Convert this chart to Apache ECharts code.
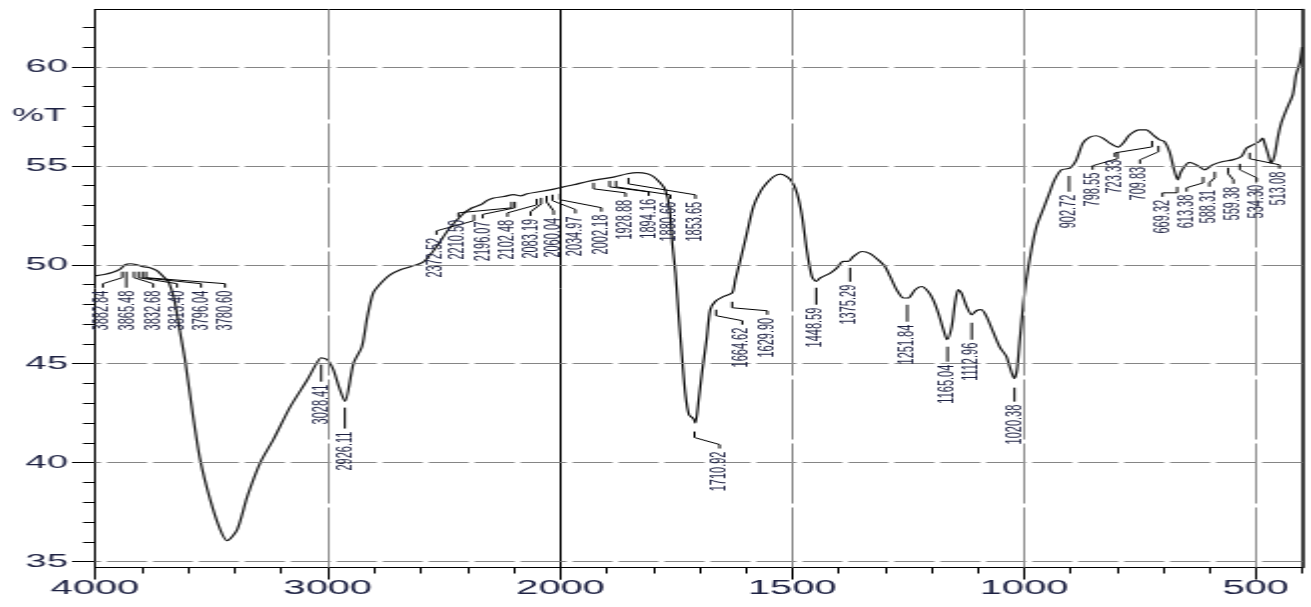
<!DOCTYPE html>
<html>
<head>
<meta charset="utf-8">
<title>IR spectrum</title>
<script src="https://cdn.jsdelivr.net/npm/echarts@6/dist/echarts.min.js"></script>
<style>
  html, body { margin: 0; padding: 0; background: #fff; overflow: hidden; }
  #wrap { width: 1311px; height: 607px; overflow: hidden; }
  /* the spectrum is drawn on a half-width canvas and widened 2x, like the instrument printout */
  #chart { width: 656px; height: 607px; transform: scaleX(1.998476); transform-origin: 0 0; }
</style>
</head>
<body>
<div id="wrap"><div id="chart"></div></div>
<script>
// ---- spectrum: wavenumber (cm-1) and transmittance (%T) ----
const wavenumbers = [
  4000, 3960, 3923, 3892, 3870, 3849, 3820, 3794, 3764, 3736, 3714, 3692, 3682, 3660,
  3634, 3613, 3578, 3548, 3505, 3462, 3432, 3389, 3346, 3290, 3234, 3161, 3088, 3049,
  3028, 3002, 2976, 2951, 2926, 2889, 2853, 2830, 2804, 2766, 2731, 2688, 2645, 2589,
  2540, 2480, 2423, 2380, 2344, 2315, 2287, 2244, 2201, 2172, 2143, 2086, 2029, 2000,
  1972, 1942, 1914, 1886, 1856, 1834, 1813, 1800, 1785, 1774, 1765, 1759, 1752, 1745,
  1738, 1731, 1723, 1713, 1709, 1702, 1695, 1685, 1677, 1666, 1648, 1630, 1623, 1612,
  1598, 1584, 1569, 1555, 1540, 1526, 1512, 1501, 1490, 1479, 1469, 1458, 1449, 1440,
  1418, 1404, 1390, 1379, 1368, 1350, 1332, 1311, 1300, 1289, 1275, 1260, 1250, 1235,
  1221, 1207, 1196, 1185, 1174, 1166, 1156, 1149, 1142, 1135, 1124, 1113, 1102, 1092,
  1081, 1067, 1052, 1038, 1031, 1021, 1015, 1009, 1002, 995, 984, 973, 962, 948,
  934, 919, 901, 887, 873, 858, 844, 830, 815, 797, 786, 772, 751, 736,
  722, 707, 697, 686, 676, 668, 661, 643, 628, 610, 593, 571, 550, 531,
  520, 506, 492, 485, 481, 474, 467, 460, 452, 445, 434, 420, 413, 405, 400
];
const transmittance = [
  49.44, 49.51, 49.62, 49.78, 50.00, 50.05, 50.00, 49.90, 49.85, 49.71, 49.49, 49.24, 49.10, 48.30,
  46.57, 45.20, 42.32, 40.15, 38.13, 36.62, 36.06, 36.62, 38.28, 40.00, 41.16, 42.83, 44.19, 45.00,
  45.30, 45.20, 44.70, 43.80, 43.10, 45.03, 45.87, 47.37, 48.59, 49.14, 49.50, 49.75, 49.90, 50.15,
  50.80, 51.80, 52.53, 52.88, 53.03, 53.25, 53.37, 53.45, 53.54, 53.48, 53.59, 53.70, 53.82, 53.90,
  54.04, 54.21, 54.33, 54.43, 54.60, 54.66, 54.60, 54.46, 54.14, 53.79, 52.88, 51.10, 49.58, 47.39,
  45.37, 43.52, 42.42, 42.21, 42.00, 43.18, 44.53, 46.21, 47.73, 48.15, 48.40, 48.57, 49.24, 50.25,
  51.60, 52.94, 53.70, 54.13, 54.46, 54.58, 54.46, 54.21, 53.62, 52.44, 50.76, 49.41, 49.16, 49.33,
  49.58, 49.83, 50.17, 50.17, 50.42, 50.67, 50.56, 50.17, 49.91, 49.41, 48.74, 48.32, 48.32, 48.74,
  48.90, 48.65, 48.23, 47.56, 46.72, 46.21, 46.88, 48.07, 48.74, 48.57, 47.89, 47.47, 47.69, 47.73,
  47.39, 46.63, 45.83, 45.37, 44.86, 44.25, 44.70, 46.21, 47.89, 49.24, 50.76, 51.93, 52.61, 53.45,
  54.29, 54.80, 54.88, 55.30, 56.15, 56.45, 56.52, 56.40, 56.15, 55.94, 56.15, 56.57, 56.82, 56.82,
  56.57, 56.31, 56.23, 55.72, 54.80, 54.29, 54.71, 55.17, 55.05, 54.80, 55.05, 55.22, 55.30, 55.47,
  55.89, 56.06, 56.23, 56.40, 56.15, 55.64, 55.14, 55.47, 56.48, 57.16, 57.83, 58.60, 59.60, 60.20, 61.00
];

// ---- peak picks printed on the spectrum ----
const peakWavenumbers = [
  3882.84, 3865.48, 3832.68, 3813.40, 3796.04, 3780.60, 3028.41, 2926.11,
  2372.52, 2210.50, 2196.07, 2102.48, 2083.19, 2060.04, 2034.97, 2002.18,
  1928.88, 1894.16, 1880.66, 1853.65, 1710.92, 1664.62, 1629.90, 1448.59,
  1375.29, 1251.84, 1165.04, 1112.96, 1020.38, 902.72, 798.55, 723.33,
  709.83, 669.32, 613.38, 588.31, 559.38, 534.30, 513.08
];
// leader layout for each pick: [wavenumber where the label sits, %T of leader start, %T of label top]
const peakLabelLayout = [
  [3966, 49.65, 48.69], [3858, 49.65, 48.69], [3750, 49.65, 48.69], [3647, 49.65, 48.69],
  [3544, 49.65, 48.69], [3441, 49.65, 48.69], [3028.41, 44.95, 43.94], [2926.11, 42.78, 41.57],
  [2533, 52.53, 51.36], [2439, 53.18, 52.27], [2335, 53.18, 52.19], [2228, 53.33, 52.27],
  [2129, 53.38, 52.32], [2030, 53.48, 52.37], [1968, 53.54, 52.44], [1912, 53.59, 52.53],
  [1860, 54.14, 53.28], [1810, 54.24, 53.33], [1763, 54.24, 53.18], [1709, 54.39, 53.18],
  [1657, 41.57, 40.56], [1608, 47.73, 46.82], [1554, 48.13, 47.32], [1448.59, 48.84, 47.83],
  [1375.29, 49.85, 48.99], [1251.84, 47.98, 46.97], [1165.04, 45.86, 44.95], [1112.96, 47.07, 46.06],
  [1020.38, 43.79, 42.93], [902.72, 54.49, 53.54], [852, 55.66, 54.65], [804, 56.26, 55.30],
  [750, 56.01, 54.95], [701, 53.94, 53.28], [649, 54.44, 53.54], [600, 54.70, 53.79],
  [548, 54.90, 53.94], [498, 55.10, 54.04], [449, 55.66, 54.70]
];

// ---- axis ticks ----
const xTicksLeft = [4000, 3000, 2000];
const xLabelsLeft = [4000, 3000];
const xMajorRight = [2000, 1500, 1000, 500];
const xMinorRight = [1900, 1800, 1700, 1600, 1400, 1300, 1200, 1100, 900, 800, 700, 600, 400];
const yMajor = [35, 40, 45, 50, 55, 60];
const yMinor = [35, 36, 37, 38, 39, 40, 41, 42, 43, 44, 45, 46, 47, 48, 49, 50,
                51, 52, 53, 54, 55, 56, 57, 58, 59, 60, 61, 62];
const verticalGridLeft = [3000];
const verticalGridRight = [1500, 1000, 500];
const Y_MIN = 34.7, Y_MAX = 62.9;

const FONT = '"Liberation Sans", Arial, sans-serif';
const INK = '#1d2142';
const BLACK = '#000';

// the scale changes at 2000 cm-1: one grid for 4000-2000, another for 2000-400
const leftData = [], rightData = [];
wavenumbers.forEach((w, i) => {
  if (w >= 2000) leftData.push([w, transmittance[i]]);
  if (w <= 2000) rightData.push([w, transmittance[i]]);
});

const hGridLine = yMajor.map(v => ({ yAxis: v }));
const dashStyle = { color: '#858585', width: 1, type: [20, 3] };
const vStyle = { color: '#8f8f8f', width: 1, type: [60, 4] };

function gridLineSeries(xi, yi, verticals) {
  return {
    type: 'line', xAxisIndex: xi, yAxisIndex: yi, data: [], silent: true, z: 1,
    markLine: {
      silent: true, symbol: 'none', animation: false,
      label: { show: false }, emphasis: { disabled: true },
      data: hGridLine.map(d => ({ ...d, lineStyle: dashStyle }))
        .concat(verticals.map(v => ({ xAxis: v, lineStyle: vStyle })))
    }
  };
}

const axisLine = { show: true, onZero: false, lineStyle: { color: BLACK, width: 1 } };
const tickLine = { color: BLACK, width: 1 };
const labelStyle = { fontFamily: FONT, color: INK };
const plainNumber = v => String(v);
// frame line along the top of each grid
const topFrame = gi => ({
  gridIndex: gi, type: 'value', position: 'top',
  min: gi === 0 ? 2000 : 400, max: gi === 0 ? 4000 : 2000, inverse: true,
  axisLine, axisTick: { show: false }, axisLabel: { show: false }, splitLine: { show: false }
});

const chart = echarts.init(document.getElementById('chart'));
chart.setOption({
  animation: false,
  title: {
    text: '%T', left: 6, top: 107, padding: 0,
    textStyle: { fontFamily: FONT, fontSize: 18, fontWeight: 'normal', color: INK }
  },
  grid: [
    { left: 47.5, top: 9.5, width: 233, bottom: 39.5, outerBoundsMode: 'none' },
    { left: 280.5, top: 9.5, right: 4.5, bottom: 39.5, outerBoundsMode: 'none' }
  ],
  xAxis: [
    {
      gridIndex: 0, type: 'value', position: 'bottom', min: 2000, max: 4000, interval: 1000, inverse: true,
      axisLine,
      axisTick: { show: true, length: 12, lineStyle: tickLine, customValues: xTicksLeft },
      minorTick: { show: true, splitNumber: 5, length: 6, lineStyle: tickLine },
      axisLabel: { ...labelStyle, fontSize: 20, margin: 11, customValues: xLabelsLeft, formatter: plainNumber },
      splitLine: { show: false }
    },
    {
      gridIndex: 1, type: 'value', position: 'bottom', min: 400, max: 2000, inverse: true,
      axisLine,
      axisTick: { show: true, length: 12, lineStyle: tickLine, customValues: xMajorRight },
      axisLabel: { ...labelStyle, fontSize: 20, margin: 11, customValues: xMajorRight, formatter: plainNumber },
      splitLine: { show: false }
    },
    {
      gridIndex: 1, type: 'value', position: 'bottom', min: 400, max: 2000, inverse: true,
      axisLine: { show: false },
      axisTick: { show: true, length: 6, lineStyle: tickLine, customValues: xMinorRight },
      axisLabel: { show: false },
      splitLine: { show: false }
    },
    topFrame(0),
    topFrame(1)
  ],
  yAxis: [
    {
      gridIndex: 0, type: 'value', position: 'left', min: Y_MIN, max: Y_MAX,
      axisLine,
      axisTick: { show: true, length: 6, lineStyle: tickLine, customValues: yMinor },
      axisLabel: { ...labelStyle, fontSize: 19, margin: 13.5, customValues: yMajor, formatter: plainNumber },
      splitLine: { show: false }
    },
    {
      gridIndex: 0, type: 'value', position: 'left', min: Y_MIN, max: Y_MAX,
      axisLine: { show: false },
      axisTick: { show: true, length: 11.5, lineStyle: tickLine, customValues: yMajor },
      axisLabel: { show: false },
      splitLine: { show: false }
    },
    {
      gridIndex: 1, type: 'value', position: 'left', min: Y_MIN, max: Y_MAX,
      axisLine,
      axisTick: { show: false }, axisLabel: { show: false }, splitLine: { show: false }
    },
    {
      gridIndex: 1, type: 'value', position: 'right', min: Y_MIN, max: Y_MAX,
      axisLine: { show: true, onZero: false, lineStyle: { color: BLACK, width: 1.5 } },
      axisTick: { show: false }, axisLabel: { show: false }, splitLine: { show: false }
    }
  ],
  series: [
    {
      name: 'spectrum 4000-2000', type: 'line', xAxisIndex: 0, yAxisIndex: 0, data: leftData,
      showSymbol: false, smooth: 0.25, silent: true, z: 3,
      lineStyle: { color: '#151515', width: 1.2 }
    },
    {
      name: 'spectrum 2000-400', type: 'line', xAxisIndex: 1, yAxisIndex: 2, data: rightData,
      showSymbol: false, smooth: 0.25, silent: true, z: 3,
      lineStyle: { color: '#151515', width: 1.2 }
    },
    gridLineSeries(0, 0, verticalGridLeft),
    gridLineSeries(1, 2, verticalGridRight)
  ]
});

// peak labels with their leader lines, placed through the axes of the grid each point falls in
function toPixel(w, t) {
  return chart.convertToPixel({ seriesIndex: w >= 2000 ? 0 : 1 }, [w, t]);
}
const elements = [];
peakWavenumbers.forEach((w, i) => {
  const [labelW, startT, labelT] = peakLabelLayout[i];
  const p = toPixel(w, startT);
  const q = toPixel(labelW, labelT);
  const pts = Math.abs(p[0] - q[0]) < 1
    ? [p, [p[0], q[1] - 3]]
    : [p, [p[0], p[1] + 6], [q[0], q[1] - 7], [q[0], q[1] - 3]];
  elements.push({
    type: 'polyline', silent: true, z: 10,
    shape: { points: pts },
    style: { stroke: BLACK, lineWidth: 1, fill: null }
  });
  elements.push({
    type: 'text', silent: true, z: 10,
    x: q[0], y: q[1], rotation: Math.PI / 2,
    style: { text: w.toFixed(2), fontFamily: FONT, fontSize: 11, fill: INK, align: 'right', verticalAlign: 'middle' }
  });
});
chart.setOption({ graphic: { elements } });
</script>
</body>
</html>
